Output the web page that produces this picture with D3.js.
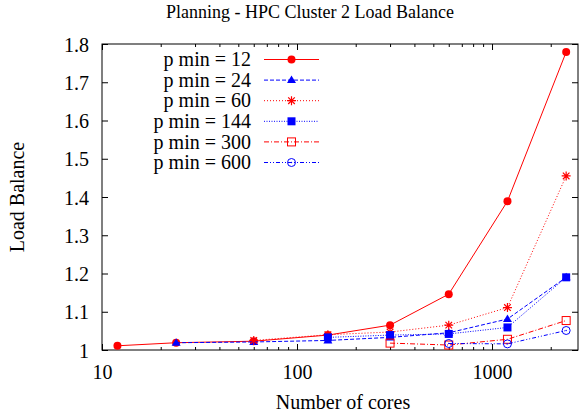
<!DOCTYPE html>
<html>
<head>
<meta charset="utf-8">
<script src="https://cdn.jsdelivr.net/npm/d3@7"></script>
<style>
  body { margin: 0; background: #fff; }
  svg text { font-family: "Liberation Serif", "DejaVu Serif", serif; fill: #000; }
</style>
</head>
<body>
<svg id="chart"></svg>
<script>
// Chart data
let cores = [12, 24, 60, 144, 300, 600, 1200, 2400]
let pMins = [12, 24, 60, 144, 300, 600]
let lb12  = [1.011, 1.019, 1.023, 1.039, 1.065, 1.146, 1.389, 1.779]
let lb24  = [null, 1.019, 1.021, 1.025, 1.033, 1.045, 1.081, 1.190]
let lb60  = [null, null, 1.025, 1.040, 1.047, 1.065, 1.111, 1.455]
let lb144 = [null, null, null, 1.033, 1.039, 1.042, 1.059, 1.190]
let lb300 = [null, null, null, null, 1.018, 1.013, 1.028, 1.077]
let lb600 = [null, null, null, null, null, 1.017, 1.016, 1.051]
let yTicks = [1, 1.1, 1.2, 1.3, 1.4, 1.5, 1.6, 1.7, 1.8]
let xTicks = [10, 100, 1000]

let width = 579
let height = 413
let plotLeft = 102, plotRight = 578, plotTop = 44, plotBottom = 350
let fontSize = '20px'

let seriesValues = [lb12, lb24, lb60, lb144, lb300, lb600]
let styles = [
    {color: '#ff0000', dash: null, marker: 'circle'},
    {color: '#0000ff', dash: '4,2', marker: 'triangle'},
    {color: '#ff0000', dash: '1,2', marker: 'star'},
    {color: '#0000ff', dash: '1,1.5', marker: 'square'},
    {color: '#ff0000', dash: '5,2,1,2', marker: 'openSquare'},
    {color: '#0000ff', dash: '4,2,1,2,1,2', marker: 'openCircle'}
]

let svg = d3.select('#chart')
            .attr('width', width)
            .attr('height', height)

let xScale = d3.scaleLog().domain([10, 2760]).range([plotLeft, plotRight])
let yScale = d3.scaleLinear().domain([1, 1.8]).range([plotBottom, plotTop])

// minor ticks on the log axis: 2..9 in every decade
let minorTicks = []
xTicks.forEach(d => {
    for (let k = 2; k <= 9; k++) {
        if (d * k <= 2760) minorTicks.push(d * k)
    }
})

// Axes, ticks pointing inwards and mirrored like gnuplot
function buildAxes() {
    let axes = [
        {axis: d3.axisBottom(xScale).tickValues(xTicks).tickSize(-6), y: plotBottom, labels: true},
        {axis: d3.axisBottom(xScale).tickValues(minorTicks).tickSize(-3), y: plotBottom, labels: false},
        {axis: d3.axisTop(xScale).tickValues(xTicks).tickSize(-6), y: plotTop, labels: false},
        {axis: d3.axisTop(xScale).tickValues(minorTicks).tickSize(-3), y: plotTop, labels: false}
    ]
    axes.forEach(a => {
        let g = svg.append('g')
            .attr('transform', 'translate(0,' + a.y + ')')
            .call(a.axis.tickFormat(d3.format('d')))
        g.select('.domain').remove()
        g.selectAll('line').attr('stroke', '#000')
        if (a.labels) {
            g.selectAll('text')
                .attr('y', 29)
                .attr('dy', 0)
                .style('font-size', fontSize)
                .style('font-family', '"Liberation Serif", serif')
        } else {
            g.selectAll('text').remove()
        }
    })

    let yl = svg.append('g')
        .attr('transform', 'translate(' + plotLeft + ',0)')
        .call(d3.axisLeft(yScale).tickValues(yTicks).tickSize(-6).tickFormat(d => String(+d.toFixed(1))))
    yl.select('.domain').remove()
    yl.selectAll('line').attr('stroke', '#000')
    yl.selectAll('text')
        .attr('x', -13)
        .attr('dy', '0.35em')
        .style('font-size', fontSize)
        .style('font-family', '"Liberation Serif", serif')

    let yr = svg.append('g')
        .attr('transform', 'translate(' + plotRight + ',0)')
        .call(d3.axisRight(yScale).tickValues(yTicks).tickSize(-6))
    yr.select('.domain').remove()
    yr.selectAll('line').attr('stroke', '#000')
    yr.selectAll('text').remove()

    svg.append('rect')
        .attr('x', plotLeft).attr('y', plotTop)
        .attr('width', plotRight - plotLeft).attr('height', plotBottom - plotTop)
        .attr('fill', 'none').attr('stroke', '#000').attr('stroke-width', 1)
}

// draws one marker shape centred on (x, y)
function drawMarker(g, kind, x, y, color) {
    if (kind === 'circle') {
        g.append('circle').attr('cx', x).attr('cy', y).attr('r', 4).attr('fill', color)
    } else if (kind === 'openCircle') {
        g.append('circle').attr('cx', x).attr('cy', y).attr('r', 4)
            .attr('fill', 'none').attr('stroke', color)
        g.append('circle').attr('cx', x).attr('cy', y).attr('r', 0.7).attr('fill', color)
    } else if (kind === 'square') {
        g.append('rect').attr('x', x - 4).attr('y', y - 4).attr('width', 8).attr('height', 8).attr('fill', color)
    } else if (kind === 'openSquare') {
        g.append('rect').attr('x', x - 4).attr('y', y - 4).attr('width', 8).attr('height', 8)
            .attr('fill', 'none').attr('stroke', color)
    } else if (kind === 'triangle') {
        g.append('path')
            .attr('d', 'M' + x + ',' + (y - 4.5) + 'L' + (x + 4.5) + ',' + (y + 3) + 'L' + (x - 4.5) + ',' + (y + 3) + 'Z')
            .attr('fill', color)
    } else if (kind === 'star') {
        let s = 4.5, d = 3.3
        g.append('path')
            .attr('d', 'M' + (x - s) + ',' + y + 'H' + (x + s) + 'M' + x + ',' + (y - s) + 'V' + (y + s) +
                       'M' + (x - d) + ',' + (y - d) + 'L' + (x + d) + ',' + (y + d) +
                       'M' + (x - d) + ',' + (y + d) + 'L' + (x + d) + ',' + (y - d))
            .attr('stroke', color).attr('stroke-width', 1.2).attr('fill', 'none')
    }
}

function drawSeries() {
    let line = d3.line()
        .defined(d => d.v !== null)
        .x(d => xScale(d.c))
        .y(d => yScale(d.v))

    seriesValues.forEach((vals, i) => {
        let st = styles[i]
        let pts = cores.map((c, j) => ({c: c, v: vals[j]}))
        let g = svg.append('g')
        g.append('path')
            .datum(pts)
            .attr('d', line)
            .attr('fill', 'none')
            .attr('stroke', st.color)
            .attr('stroke-width', 1)
            .attr('stroke-dasharray', st.dash)
        pts.filter(p => p.v !== null).forEach(p => drawMarker(g, st.marker, xScale(p.c), yScale(p.v), st.color))
    })
}

function drawLegend() {
    let lg = svg.append('g')
    pMins.forEach((p, i) => {
        let st = styles[i]
        let y = 59.5 + i * 20.6
        lg.append('text')
            .attr('x', 251).attr('y', y).attr('dy', '0.33em')
            .attr('text-anchor', 'end')
            .style('font-size', fontSize)
            .text('p min = ' + p)
        lg.append('line')
            .attr('x1', 264).attr('x2', 319).attr('y1', y).attr('y2', y)
            .attr('stroke', st.color).attr('stroke-dasharray', st.dash)
        drawMarker(lg, st.marker, 291.5, y, st.color)
    })
}

function drawTitles() {
    svg.append('text')
        .attr('x', 310).attr('y', 18)
        .attr('text-anchor', 'middle')
        .style('font-size', '18px')
        .text('Planning - HPC Cluster 2 Load Balance')

    svg.append('text')
        .attr('x', 343).attr('y', 409)
        .attr('text-anchor', 'middle')
        .style('font-size', fontSize)
        .text('Number of cores')

    svg.append('text')
        .attr('transform', 'translate(24,' + ((plotTop + plotBottom) / 2) + ') rotate(-90)')
        .attr('text-anchor', 'middle')
        .style('font-size', fontSize)
        .text('Load Balance')
}

buildAxes()
drawSeries()
drawLegend()
drawTitles()
</script>
</body>
</html>
